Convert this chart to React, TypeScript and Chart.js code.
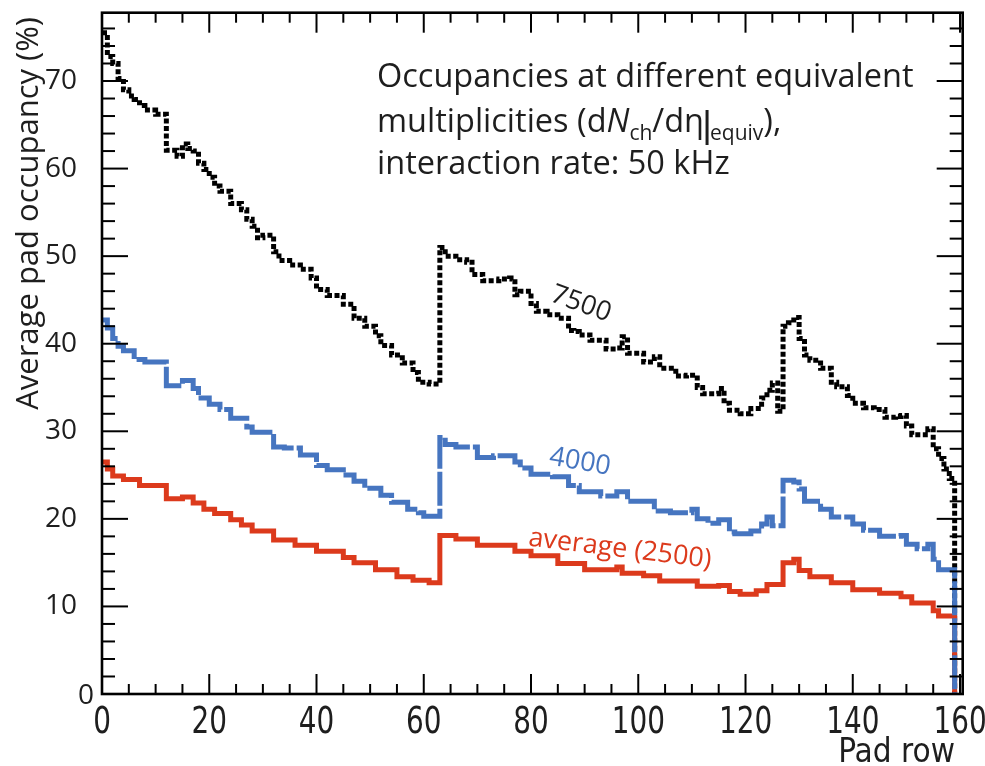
import React, { useEffect, useRef } from "react";
import { Chart, registerables } from "chart.js";

Chart.register(...registerables);

// ---- data (pad row where a step starts, occupancy in %) ----
const rows7500 = [0, 1, 2, 3, 4, 5, 6, 7, 8, 10, 12, 14, 15, 16, 17, 18, 19, 20, 21, 22, 24, 26, 27, 28, 29, 30, 32, 33, 35, 37, 39, 40, 42, 45, 47, 49, 51, 52, 54, 56, 58, 59, 61, 63, 64, 66, 68, 69, 71, 74, 76, 77, 78, 80, 81, 83, 85, 87, 88, 89, 91, 94, 96, 97, 98, 101, 103, 104, 107, 109, 111, 112, 115, 116, 117, 119, 121, 123, 124, 125, 126, 127, 128, 129, 130, 131, 132, 134, 136, 137, 139, 140, 142, 144, 146, 148, 149, 150, 151, 154, 155, 156, 157, 158, 159];
const occ7500 = [75.5, 72.8, 72.0, 70.3, 69.0, 68.3, 67.9, 67.2, 66.7, 66.2, 62.1, 61.4, 62.8, 62.3, 62.0, 60.6, 59.9, 59.0, 58.0, 57.4, 56.0, 55.3, 54.2, 53.4, 52.1, 52.4, 50.5, 49.5, 49.0, 48.5, 47.5, 46.2, 45.5, 44.5, 42.9, 42.0, 40.9, 39.8, 38.7, 37.8, 36.7, 35.6, 35.4, 51.0, 50.0, 49.6, 49.3, 47.9, 47.2, 47.4, 47.5, 45.6, 46.0, 44.6, 43.7, 43.3, 42.9, 41.5, 41.4, 41.0, 40.4, 39.4, 39.5, 40.8, 38.9, 37.9, 38.5, 37.2, 36.3, 36.4, 35.0, 34.3, 34.9, 33.2, 32.4, 32.0, 32.6, 33.8, 34.7, 35.5, 32.3, 42.0, 42.4, 43.0, 40.6, 38.7, 38.1, 37.2, 35.6, 35.1, 34.1, 33.2, 32.7, 32.5, 31.6, 31.7, 31.8, 30.6, 29.6, 30.3, 28.0, 26.9, 25.7, 24.6, 0];

const rows4000 = [0, 1, 2, 3, 4, 6, 8, 12, 15, 17, 18, 20, 22, 24, 27, 28, 32, 34, 37, 40, 42, 45, 47, 49, 52, 54, 57, 59, 60, 63, 64, 66, 70, 73, 77, 78, 80, 84, 87, 89, 93, 96, 98, 103, 106, 110, 111, 113, 115, 117, 118, 121, 123, 124, 125, 127, 129, 130, 131, 134, 136, 140, 142, 145, 149, 150, 152, 154, 155, 156, 159];
const occ4000 = [42.7, 41.8, 40.6, 39.7, 39.2, 38.2, 37.9, 35.2, 35.8, 34.9, 33.8, 33.1, 32.5, 31.5, 30.5, 29.9, 28.2, 28.1, 27.3, 26.1, 25.6, 25.0, 24.3, 23.5, 22.7, 21.9, 21.1, 20.7, 20.3, 29.3, 28.5, 28.2, 27.0, 27.2, 26.5, 25.8, 25.1, 24.8, 23.8, 23.1, 22.6, 23.1, 22.0, 20.9, 20.7, 21.1, 20.0, 19.5, 19.9, 18.5, 18.3, 18.6, 19.4, 20.2, 19.2, 24.4, 24.2, 23.4, 22.0, 21.1, 20.2, 19.4, 18.7, 18.0, 18.1, 17.1, 16.6, 17.1, 15.4, 14.2, 0];

const rows2500 = [0, 1, 2, 4, 7, 12, 15, 17, 19, 21, 24, 26, 28, 32, 36, 40, 45, 47, 51, 55, 58, 61, 63, 66, 70, 77, 80, 85, 90, 96, 97, 101, 104, 111, 115, 117, 119, 122, 124, 127, 129, 130, 132, 136, 140, 145, 149, 151, 155, 156, 159];
const occ2500 = [26.5, 25.7, 24.9, 24.5, 23.8, 22.3, 22.5, 21.8, 21.1, 20.6, 19.9, 19.3, 18.6, 17.6, 17.0, 16.3, 15.6, 15.0, 14.2, 13.4, 13.0, 12.7, 18.1, 17.7, 17.0, 16.3, 15.8, 14.9, 14.2, 14.5, 13.8, 13.5, 12.9, 12.3, 12.4, 11.7, 11.4, 11.8, 12.5, 15.0, 15.4, 14.1, 13.4, 12.7, 11.9, 11.5, 11.1, 10.4, 9.5, 8.9, 0];

const xTickValues = [0, 20, 40, 60, 80, 100, 120, 140, 160];
const yTickValues = [0, 10, 20, 30, 40, 50, 60, 70];
const xTitle = "Pad row";
const yTitle = "Average pad occupancy (%)";
const seriesLabels = ["7500", "4000", "average (2500)"];

const X_MIN = 0;
const X_MAX = 160.5;
const Y_MIN = 0;
const Y_MAX = 77.8;

const BLACK = "#000000";
const BLUE = "#4675c0";
const RED = "#dc3a1c";
const TEXT = "#1e1e1e";

const SANS = "'Open Sans', 'Noto Sans', sans-serif";
const NARROW = "'Liberation Sans Narrow', 'DejaVu Sans Condensed', sans-serif";

function toPoints(rows: number[], vals: number[]) {
  return rows.map((x, i) => ({ x, y: vals[i] }));
}

const decorPlugin = {
  id: "decor",
  afterDatasetsDraw(chart: any) {
    const { ctx, chartArea: a, scales } = chart;
    const xs = scales.x;
    const ys = scales.y;
    ctx.save();
    const seg = (x1: number, y1: number, x2: number, y2: number) => {
      ctx.beginPath();
      ctx.moveTo(x1, y1);
      ctx.lineTo(x2, y2);
      ctx.stroke();
    };
    // frame
    ctx.strokeStyle = "#000";
    ctx.lineWidth = 2.6;
    ctx.strokeRect(a.left, a.top, a.right - a.left, a.bottom - a.top);
    // ticks (inward on all four sides)
    ctx.lineWidth = 2;
    for (let v = 0; v <= X_MAX; v += 5) {
      const px = xs.getPixelForValue(v);
      const len = v % 20 === 0 ? 20 : 10;
      seg(px, a.bottom, px, a.bottom - len);
      seg(px, a.top, px, a.top + len);
    }
    for (let v = 0; v <= Y_MAX; v += 2) {
      const py = ys.getPixelForValue(v);
      const len = v % 10 === 0 ? 26 : 13;
      seg(a.left, py, a.left + len, py);
      seg(a.right, py, a.right - len, py);
    }
    // x tick labels (condensed, slightly stretched vertically)
    ctx.fillStyle = TEXT;
    ctx.font = `31px ${NARROW}`;
    ctx.textAlign = "center";
    ctx.textBaseline = "alphabetic";
    for (const v of xTickValues) {
      ctx.save();
      ctx.translate(xs.getPixelForValue(v), a.bottom + 39);
      ctx.scale(1, 1.18);
      ctx.fillText(String(v), 0, 0);
      ctx.restore();
    }
    // y tick labels
    ctx.font = `28px ${SANS}`;
    ctx.textBaseline = "middle";
    for (const v of yTickValues) {
      const py = ys.getPixelForValue(v);
      if (v === 0) {
        ctx.textAlign = "center";
        ctx.fillText("0", 86, py + 2);
      } else {
        ctx.textAlign = "right";
        ctx.fillText(String(v), 77, py);
      }
    }
    // axis titles
    ctx.font = `33px ${NARROW}`;
    ctx.textAlign = "right";
    ctx.textBaseline = "alphabetic";
    ctx.fillText(xTitle, 955, 762);

    ctx.save();
    ctx.translate(29, 17);
    ctx.rotate(-Math.PI / 2);
    ctx.font = `31px ${SANS}`;
    ctx.textAlign = "right";
    ctx.textBaseline = "middle";
    ctx.fillText(yTitle, 0, 0);
    ctx.restore();

    // info text block
    const fs = 32.5;
    ctx.textAlign = "left";
    ctx.textBaseline = "alphabetic";
    ctx.fillStyle = TEXT;
    ctx.font = `${fs}px ${SANS}`;
    ctx.fillText("Occupancies at different equivalent", 377, 87);
    let x = 377;
    const by = 132;
    const run = (t: string, font: string, dy = 0) => {
      ctx.font = font;
      ctx.fillText(t, x, by + dy);
      x += ctx.measureText(t).width;
    };
    run("multiplicities (d", `${fs}px ${SANS}`);
    run("N", `italic ${fs}px ${SANS}`);
    run("ch", `21px ${SANS}`, 8);
    run("/d\u03b7", `${fs}px ${SANS}`);
    ctx.lineWidth = 3;
    ctx.strokeStyle = TEXT;
    seg(x + 3, by - 22, x + 3, by + 13);
    x += 6;
    run("equiv", `21px ${SANS}`, 8);
    run("),", `${fs}px ${SANS}`);
    ctx.font = `${fs}px ${SANS}`;
    ctx.fillText("interaction rate: 50 kHz", 377, 174);

    // series labels
    const label = (t: string, cx: number, cy: number, deg: number, color: string) => {
      ctx.save();
      ctx.translate(cx, cy);
      ctx.rotate((deg * Math.PI) / 180);
      ctx.font = `27px ${SANS}`;
      ctx.fillStyle = color;
      ctx.textAlign = "center";
      ctx.textBaseline = "middle";
      ctx.fillText(t, 0, 0);
      ctx.restore();
    };
    label(seriesLabels[0], 581, 304, 20, TEXT);
    label(seriesLabels[1], 580, 462, 10, BLUE);
    label(seriesLabels[2], 620, 549, 7, RED);
    ctx.restore();
  },
};

export default function App() {
  const ref = useRef<HTMLCanvasElement | null>(null);
  useEffect(() => {
    if (!ref.current) return;
    const chart = new Chart(ref.current, {
      type: "line",
      data: {
        datasets: [
          {
            label: seriesLabels[1],
            data: toPoints(rows4000, occ4000),
            stepped: "before",
            borderColor: BLUE,
            borderWidth: 5,
            borderDash: [34, 3],
            pointRadius: 0,
            fill: false,
          },
          {
            label: seriesLabels[2],
            data: toPoints(rows2500, occ2500),
            stepped: "before",
            borderColor: RED,
            borderWidth: 5,
            pointRadius: 0,
            fill: false,
          },
          {
            label: seriesLabels[0],
            data: toPoints(rows7500, occ7500),
            stepped: "before",
            borderColor: BLACK,
            borderWidth: 5,
            borderDash: [5, 2.5],
            pointRadius: 0,
            fill: false,
          },
        ],
      },
      options: {
        responsive: false,
        animation: false,
        layout: { padding: { left: 102, right: 22.3, top: 12.7, bottom: 72 } },
        plugins: { legend: { display: false }, tooltip: { enabled: false } },
        scales: {
          x: { type: "linear", min: X_MIN, max: X_MAX, display: false },
          y: { type: "linear", min: Y_MIN, max: Y_MAX, display: false },
        },
      },
      plugins: [decorPlugin],
    });
    return () => chart.destroy();
  }, []);
  return (
    <div style={{ position: "absolute", left: 0, top: 0, width: 985, height: 766, background: "#fff" }}>
      <canvas ref={ref} width={985} height={766} />
    </div>
  );
}
